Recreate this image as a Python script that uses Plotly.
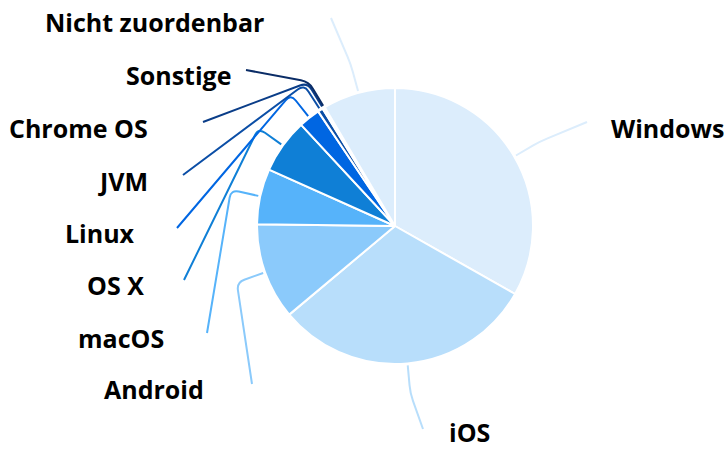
import math
import plotly.graph_objects as go

# ---- data ----
labels = ["Windows", "iOS", "Android", "macOS", "OS X", "Linux", "JVM",
          "Chrome OS", "Sonstige", "Nicht zuordenbar"]
shares = [33.2, 30.7, 11.3, 6.5, 6.4, 2.5, 0.6, 0.15, 0.15, 8.5]
colors = ["#dcedfc", "#b8defb", "#8bcafb", "#56b3fa", "#0f7fd6", "#0066e2",
          "#0b4ea6", "#0a3d88", "#0a2c66", "#dcedfc"]

# ---- layout constants (pixels) ----
W, H = 724, 450
CX, CY, R = 395, 226, 138
# label anchor: (x, y, xanchor)
label_pos = [(609, 128, "left"), (447, 432, "left"), (206, 389, "right"),
             (166, 338, "right"), (146, 285, "right"), (137, 233, "right"),
             (150, 181, "right"), (150, 128, "right"), (233, 75, "right"),
             (266, 22, "right")]
# connector end points near labels
conn_end = [(587, 122), (423, 429), (252, 384), (207, 333), (184, 280),
            (177, 228), (183, 175), (203, 122), (246, 70), (331, 18)]


def px(x, y):
    return x / W, 1 - y / H


fig = go.Figure(go.Pie(
    labels=labels, values=shares, sort=False, direction="clockwise",
    rotation=0, textinfo="none", hoverinfo="label+percent",
    marker=dict(colors=colors, line=dict(color="white", width=2)),
    domain=dict(x=[(CX - R) / W, (CX + R) / W],
                y=[(H - CY - R) / H, (H - CY + R) / H]),
    showlegend=False,
))

total = sum(shares)
cum = 0
shapes = []
annotations = []
for i, v in enumerate(shares):
    theta = math.radians(360 * (cum + v / 2) / total)
    cum += v
    dx, dy = math.sin(theta), -math.cos(theta)
    sx, sy = CX + (R + 2) * dx, CY + (R + 2) * dy
    bx, by = CX + (R + 30) * dx, CY + (R + 30) * dy
    ex, ey = conn_end[i]
    # rounded corner at bend
    l1 = math.hypot(bx - sx, by - sy)
    l2 = math.hypot(ex - bx, ey - by)
    rr = min(8, l1 * 0.5, l2 * 0.5)
    p1 = (bx - rr * (bx - sx) / l1, by - rr * (by - sy) / l1)
    p2 = (bx + rr * (ex - bx) / l2, by + rr * (ey - by) / l2)
    pts = [px(sx, sy), px(*p1), px(bx, by), px(*p2), px(ex, ey)]
    path = ("M {0[0]:.5f},{0[1]:.5f} L {1[0]:.5f},{1[1]:.5f} "
            "Q {2[0]:.5f},{2[1]:.5f} {3[0]:.5f},{3[1]:.5f} "
            "L {4[0]:.5f},{4[1]:.5f}").format(*pts)
    shapes.append(dict(type="path", xref="paper", yref="paper", path=path,
                       line=dict(color=colors[i], width=2), layer="below"))
    lx, ly, anc = label_pos[i]
    annotations.append(dict(
        text=labels[i], xref="paper", yref="paper",
        x=lx / W, y=1 - ly / H, xanchor=anc, yanchor="middle",
        showarrow=False,
        font=dict(family="Open Sans", size=25, color="#000000", weight=700)))

fig.update_layout(
    width=W, height=H, margin=dict(l=0, r=0, t=0, b=0),
    paper_bgcolor="white", plot_bgcolor="white",
    shapes=shapes, annotations=annotations,
)

fig.write_html("out.html", config={"displayModeBar": False},
               post_script="document.body.style.margin='0';"
                           "document.body.style.padding='0';")
